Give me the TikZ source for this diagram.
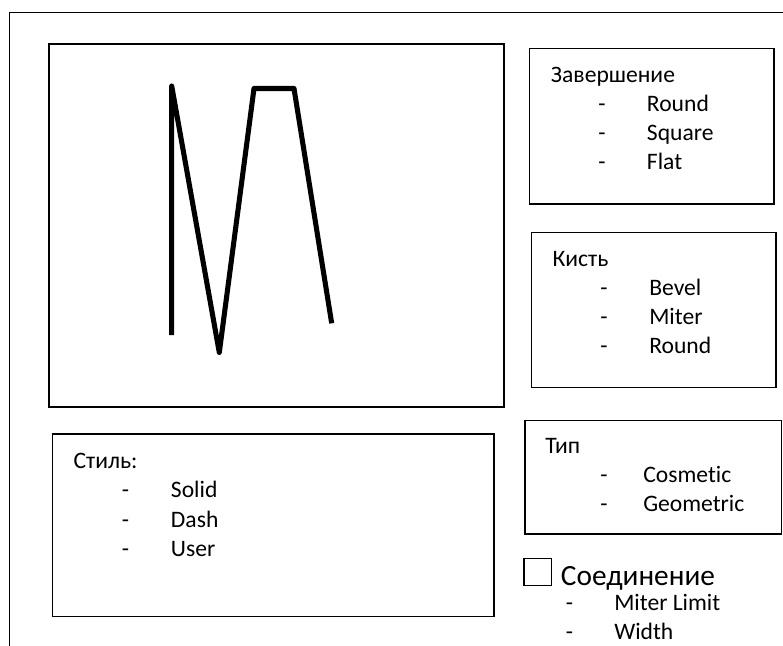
\documentclass[tikz,border=0pt]{standalone}
\usepackage{fontspec}
\setmainfont{Carlito}[Ligatures=NoCommon]
\usepackage{tikz}
\usetikzlibrary{fit}
\tikzset{
  pen diagram/.style={font=\fontsize{17.7}{21}\selectfont, text=black,
    x=0.75pt, y=-0.75pt},
  pen frame/.style={draw=black, line width=1pt},
  pen panel/.style={draw=black, line width=1.1pt, inner sep=0pt},
  pen title/.style={anchor=base west, inner sep=0pt},
  pen item/.style={anchor=base west, inner sep=0pt},
  pen dash/.style={anchor=base, inner sep=0pt},
  pen stroke/.style={draw=black, line width=3.8pt, line join=round, line cap=butt},
  pen check/.style={draw=black, line width=0.8pt, inner sep=0pt}
}

\begin{document}
\begin{tikzpicture}[pen diagram]
\useasboundingbox (0,0) rectangle (783,646);
% outer window
\coordinate (winbl) at (9.3,646);
\coordinate (wintl) at (9.3,12.7);
\coordinate (wintr) at (783,12.7);
\draw[pen frame] (winbl) -- (wintl) -- (wintr);

% drawing area with the sample stroke
\node[pen panel, fit={(49,44) (504,407)}] (canvas) {};
\draw[pen stroke] (171.7,335) -- (171.7,86) -- (219.3,352.5) -- (254,88.5)
  -- (294,88.5) -- (331.7,323.3);

% end caps
\node[pen panel, fit={(529.3,48.3) (774,204)}] (capbox) {};
\node[pen title] (captitle) at (550.7,82.3) {Завершение};
\foreach \t [count=\i] in {Round,Square,Flat}{
  \node[pen dash] (capdash\i) at (602,82.3+29*\i) {-};
  \node[pen item] (cap\i) at (646.7,82.3+29*\i) {\t};
}

% joins
\node[pen panel, fit={(531.7,232.7) (776,387.3)}] (joinbox) {};
\node[pen title] (jointitle) at (552.3,266.7) {Кисть};
\foreach \t [count=\i] in {Bevel,Miter,Round}{
  \node[pen dash] (joindash\i) at (604,266.7+29*\i) {-};
  \node[pen item] (join\i) at (649,266.7+29*\i) {\t};
}

% pen type
\node[pen panel, fit={(525,420.7) (781.7,534)}] (typebox) {};
\node[pen title] (typetitle) at (545,453.3) {Тип};
\foreach \t [count=\i] in {Cosmetic,Geometric}{
  \node[pen dash] (typedash\i) at (604,453.3+29*\i) {-};
  \node[pen item] (type\i) at (643,453.3+29*\i) {\t};
}

% line style
\node[pen panel, fit={(52.7,434) (494,616.3)}] (stylebox) {};
\node[pen title] (styletitle) at (73.3,468.3) {Стиль:};
\foreach \t [count=\i] in {Solid,Dash,User}{
  \node[pen dash] (styledash\i) at (125.5,468.3+29.5*\i) {-};
  \node[pen item] (style\i) at (170.7,468.3+29.5*\i) {\t};
}

% connection
\node[pen check, fit={(524,558.3) (551.7,585.7)}] (joincheck) {};
\node[pen title, font=\fontsize{22}{26}\selectfont] (conntitle) at (560.7,585.7) {Соединение};
\foreach \t [count=\i] in {Miter Limit,Width}{
  \node[pen dash] (conndash\i) at (569.5,582+28.5*\i) {-};
  \node[pen item] (conn\i) at (614,582+28.5*\i) {\t};
}
\end{tikzpicture}
\end{document}
